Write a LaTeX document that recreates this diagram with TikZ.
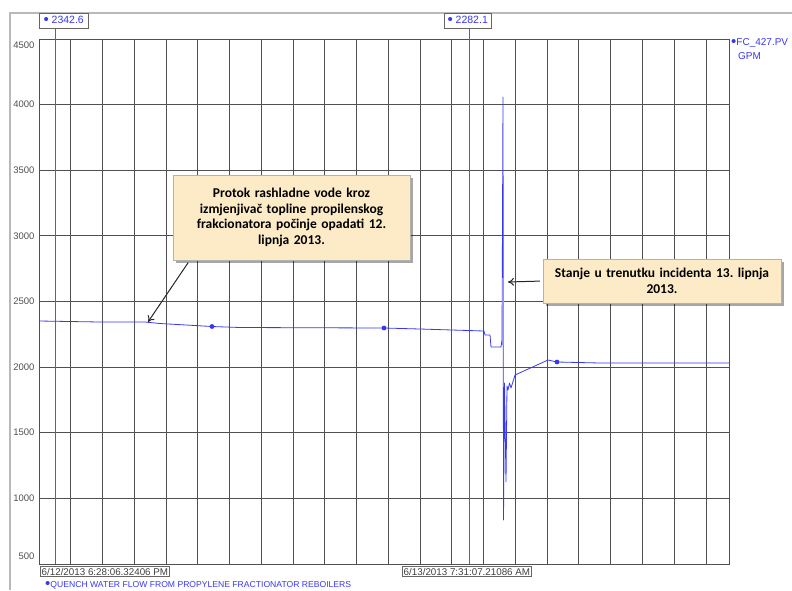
\documentclass[tikz,border=0pt]{standalone}
\usepackage{fontspec}
\setmainfont{Liberation Sans}
\newfontfamily\calloutfont{Carlito}
\usetikzlibrary{arrows.meta,shadows}
\frenchspacing

\definecolor{trendblue}{HTML}{3838F2}
\definecolor{markred}{HTML}{C83C3C}
\definecolor{notefill}{HTML}{FCEBC6}
\definecolor{gridgray}{HTML}{505050}

\newcommand{\bigdot}{{\fontsize{15}{10}\selectfont\raisebox{-1.2pt}{•}}}

\tikzset{
  gridline/.style={gridgray, line width=0.9pt},
  marker/.style={markred, line width=1pt},
  flow/.style={trendblue, line width=0.8pt, line join=round},
  valbox/.style={draw=gray!80!black, fill=white, inner sep=2pt, font=\fontsize{10.5}{12}\selectfont},
  note/.style={draw=gray!60, fill=notefill, align=center, inner sep=5pt,
    font=\calloutfont\bfseries\fontsize{13.5}{15.5}\selectfont,
    drop shadow={shadow xshift=2.5pt, shadow yshift=-2.5pt, opacity=0.35, fill=black}},
  pointer/.style={-{To[length=6pt,width=8pt]}, line width=1pt, black!85}
}

\begin{document}
\begin{tikzpicture}[x=1pt,y=-1pt]
	\useasboundingbox (0,0) rectangle (792,590);
	\draw [gray!55, line width=1.5pt] (10,590) -- (10,13) -- (792,13);
	\foreach \k in {1,...,21}
		\draw [gridline] (39+\k*31.76,39) -- (39+\k*31.76,564);
	\foreach \k in {1,...,7}
		\draw [gridline] (39,39+\k*65.625) -- (729,39+\k*65.625);
	\draw [gridline] (39,39) rectangle (729,564);
	\foreach \v/\yy in {4500/45,4000/104,3500/170,3000/236,2500/301,2000/367,1500/432,1000/498,500/556}
		\node [anchor=east, gridgray, font=\fontsize{9.5}{10}\selectfont] (lab\v) at (38,\yy) {\v};
	\draw [marker] (55,28) -- (55,564);
	\draw [marker] (469,28) -- (469,564);
	\node [valbox, anchor=west, text=trendblue, minimum width=49pt, minimum height=15.5pt, inner ysep=1pt] (cur1) at (39,20.5) {\bigdot\ 2342.6};
	\node [valbox, anchor=west, text=trendblue, minimum width=47pt, minimum height=15.5pt, inner ysep=1pt] (cur2) at (444,20.5) {\bigdot\ 2282.1};
	\node [valbox, anchor=west, text=black!75, inner sep=1.5pt, font=\fontsize{9.8}{11}\selectfont] (time1) at (40,571.5) {6/12/2013 6:28:06.32406 PM};
	\node [valbox, anchor=west, text=black!75, inner sep=1.5pt, font=\fontsize{9.8}{11}\selectfont] (time2) at (402,571.5) {6/13/2013 7:31:07.21086 AM};
	\node [anchor=north west, trendblue, align=left, inner sep=0pt, font=\fontsize{10}{14}\selectfont] (tag) at (731,38) {\bigdot FC\_427.PV\\\hspace{7pt}GPM};
	\node [anchor=west, trendblue, inner sep=0pt, font=\fontsize{8.6}{10}\selectfont] (legend) at (45,585) {\bigdot QUENCH WATER FLOW FROM PROPYLENE FRACTIONATOR REBOILERS};
	% trend of the flow
	\draw [flow] (39,321) -- (100,322) -- (145,322) -- (160,323.5) -- (212,326.5) -- (240,327.5)
		-- (384,328) -- (420,329) -- (484,331) -- (485,335) -- (490,335) -- (491,347) -- (501,347)
		-- (502,340) -- (503,97) -- (503.5,520) -- (504.5,383) -- (506,482) -- (507,386) -- (508,390)
		-- (509.5,383) -- (511,388) -- (515,375) -- (548,360) -- (557,362) -- (600,363) -- (729,363);
	\draw [trendblue!55, line width=2pt] (503,278) -- (503,345);
	\fill [trendblue] (212,326.5) circle (2.4);
	\fill [trendblue] (384,328) circle (2.4);
	\fill [trendblue] (557,362) circle (2.4);
	% callouts
	\node [note, minimum width=237pt, minimum height=85pt, text width=227pt] (note1) at (291.5,217.5)
		{Protok rashladne vode kroz\\izmjenjivač topline propilenskog\\frakcionatora počinje opadati 12.\\lipnja 2013.};
	\node [note, minimum width=235pt, minimum height=44pt, text width=228pt] (note2) at (662,281)
		{Stanje u trenutku incidenta 13. lipnja\\2013.};
	\coordinate (hit1) at (148,322);
	\coordinate (hit2) at (508,282);
	\draw [pointer, shorten <=3pt] ([xshift=17pt]note1.south west) -- (hit1);
	\draw [pointer, shorten <=3pt] (note2.west) -- (hit2);
\end{tikzpicture}
\end{document}
